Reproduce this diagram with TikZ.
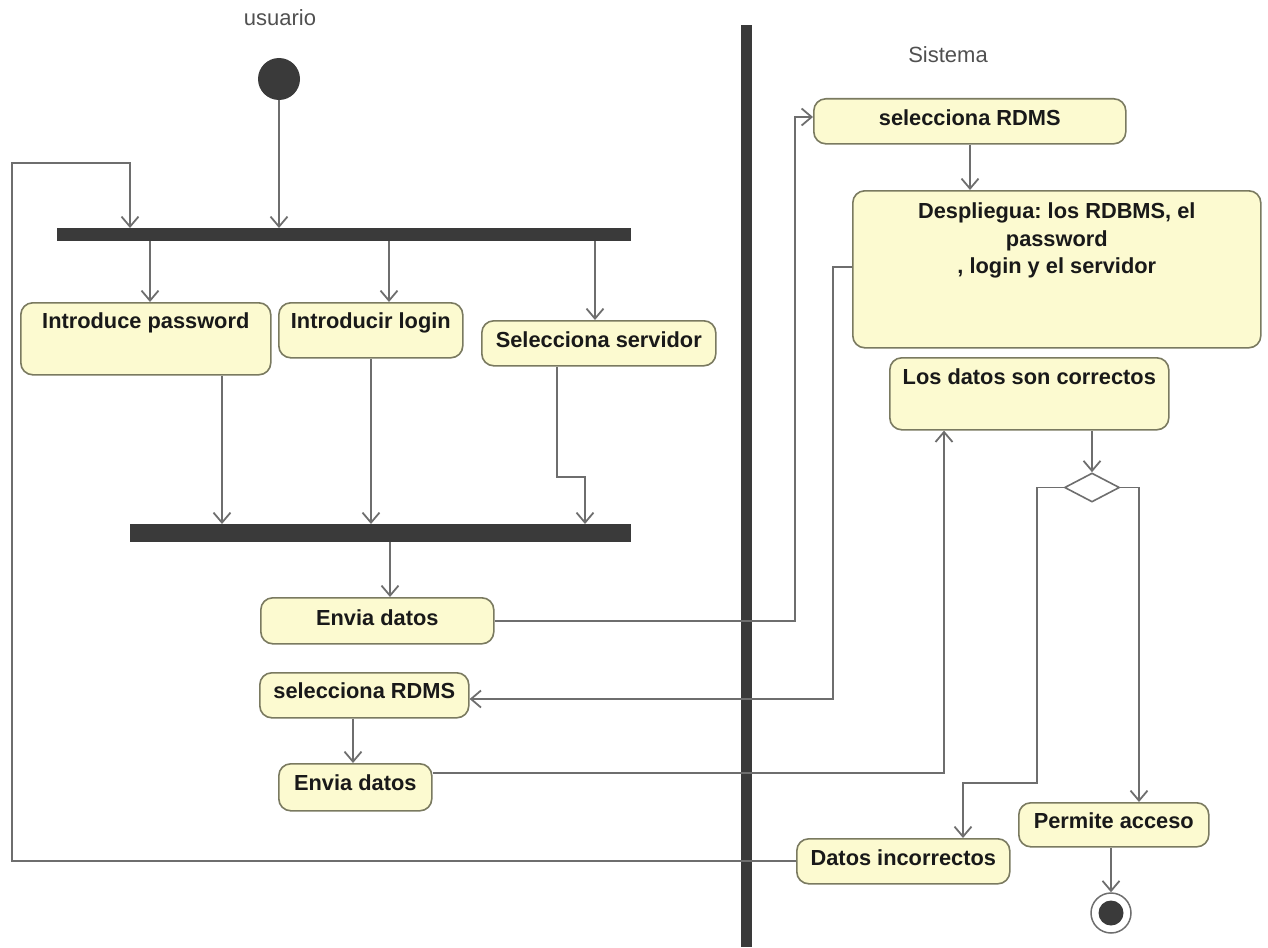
\documentclass[tikz,border=0pt]{standalone}
\usepackage{fontspec}
\setmainfont{Liberation Sans}
\frenchspacing
\usetikzlibrary{arrows.meta,shapes.geometric}
\definecolor{boxfill}{RGB}{252,250,208}
\definecolor{boxline}{RGB}{122,122,96}
\definecolor{flowline}{RGB}{110,110,110}
\definecolor{barfill}{RGB}{58,58,58}
\definecolor{lanetext}{RGB}{80,80,80}
\newcommand\actfont{\fontsize{21.8}{27.5}\selectfont\bfseries}
\tikzset{
  act/.style={draw=boxline, fill=boxfill, rounded corners=12pt, line width=1.6pt,
    inner sep=0pt, anchor=north west, font=\actfont, text=black!90},
  flow/.style={draw=flowline, line width=1.8pt, -{Straight Barb[length=10pt,width=17pt]}},
  bar/.style={fill=barfill, draw=none, inner sep=0pt, anchor=north west},
  lane/.style={font=\fontsize{22}{26}\selectfont, text=lanetext, anchor=base, inner sep=0pt},
}
\begin{document}
\begin{tikzpicture}[x=1pt,y=-1pt]
\useasboundingbox (0,0) rectangle (1268,947);

% swimlane titles and separator
\node[lane] (lu) at (280,26) {usuario};
\node[lane] (ls) at (948,63) {Sistema};
\fill[barfill] (740.5,25) rectangle (751.5,947);

% initial and final nodes
\node[circle, fill=barfill, minimum size=42pt, inner sep=0pt] (start) at (279,79) {};
\node[circle, draw=flowline, line width=1.5pt, fill=white, minimum size=40pt, inner sep=0pt,
  path picture={\fill[barfill] (path picture bounding box.center) circle (12.5pt);}] (end) at (1111,913) {};

% fork and join bars
\node[bar, minimum width=574pt, minimum height=13pt] (fork) at (57,228) {};
\node[bar, minimum width=501pt, minimum height=18pt] (join) at (130,524) {};

% user actions
\node[act, minimum width=250pt, text height=26pt, text depth=46pt] (pass) at (20,302) {Introduce password};
\node[act, minimum width=184pt, text height=26pt, text depth=29pt] (login) at (278,302) {Introducir login};
\node[act, minimum width=234pt, text height=27pt, text depth=18pt] (serv) at (481,320) {Selecciona servidor};
\node[act, minimum width=233pt, text height=28pt, text depth=18pt] (env1) at (260,597) {Envia datos};
\node[act, minimum width=209pt, text height=26pt, text depth=19pt] (selL) at (259,672) {selecciona RDMS};
\node[act, minimum width=153pt, text height=27pt, text depth=20pt] (env2) at (278,763) {Envia datos};

% system actions
\node[act, minimum width=312pt, text height=27pt, text depth=18pt] (selR) at (813,98) {selecciona RDMS};
\node[act, minimum width=408pt, text height=28pt, text depth=129pt] (desp) at (852,190)
  {\begin{tabular}[t]{@{}c@{}}Despliegua: los RDBMS, el\\ password\\ , login y el servidor\end{tabular}};
\node[act, minimum width=279pt, text height=27pt, text depth=45pt] (datos) at (889,357) {Los datos son correctos};
\node[diamond, draw=flowline, line width=1.6pt, fill=white, inner sep=0pt, aspect=1.9,
  minimum width=55pt, minimum height=29pt] (dec) at (1092,487.5) {};
\node[act, minimum width=190pt, text height=26pt, text depth=18pt] (permite) at (1018,802) {Permite acceso};
\node[act, minimum width=213pt, text height=27pt, text depth=18pt] (incorr) at (796,838) {Datos incorrectos};

% flows
\draw[flow] (start) -- (start |- fork.north);
\draw[flow] (fork.south -| 150,0) -- (pass.north -| 150,0);
\draw[flow] (fork.south -| 389,0) -- (login.north -| 389,0);
\draw[flow] (fork.south -| 595,0) -- (serv.north -| 595,0);
\draw[flow] (pass.south -| 222,0) -- (join.north -| 222,0);
\draw[flow] (login.south -| 371,0) -- (join.north -| 371,0);
\draw[flow] (serv.south -| 557,0) -- (557,477) -- (585,477) -- (join.north -| 585,0);
\draw[flow] (join.south -| 390,0) -- (env1.north -| 390,0);
\draw[flow] (env1.east |- 0,621) -- (795,621) -- (795,117) -- (selR.west |- 0,117);
\draw[flow] (selR.south -| 970,0) -- (desp.north -| 970,0);
\draw[flow] (desp.west |- 0,267) -- (833,267) -- (833,699) -- (selL.east |- 0,699);
\draw[flow] (selL.south -| 353,0) -- (env2.north -| 353,0);
\draw[flow] (env2.east |- 0,773) -- (944,773) -- (datos.south -| 944,0);
\draw[flow] (datos.south -| 1092,0) -- (dec.north);
\draw[flow] (dec.west) -- (1037,487.5) -- (1037,783) -- (963,783) -- (incorr.north -| 963,0);
\draw[flow] (dec.east) -- (1139,487.5) -- (permite.north -| 1139,0);
\draw[flow] (permite.south -| 1111,0) -- (end.north);
\draw[flow] (incorr.west) -- (incorr.west -| 12,0) -- (12,163) -- (130,163) -- (fork.north -| 130,0);
\end{tikzpicture}
\end{document}
